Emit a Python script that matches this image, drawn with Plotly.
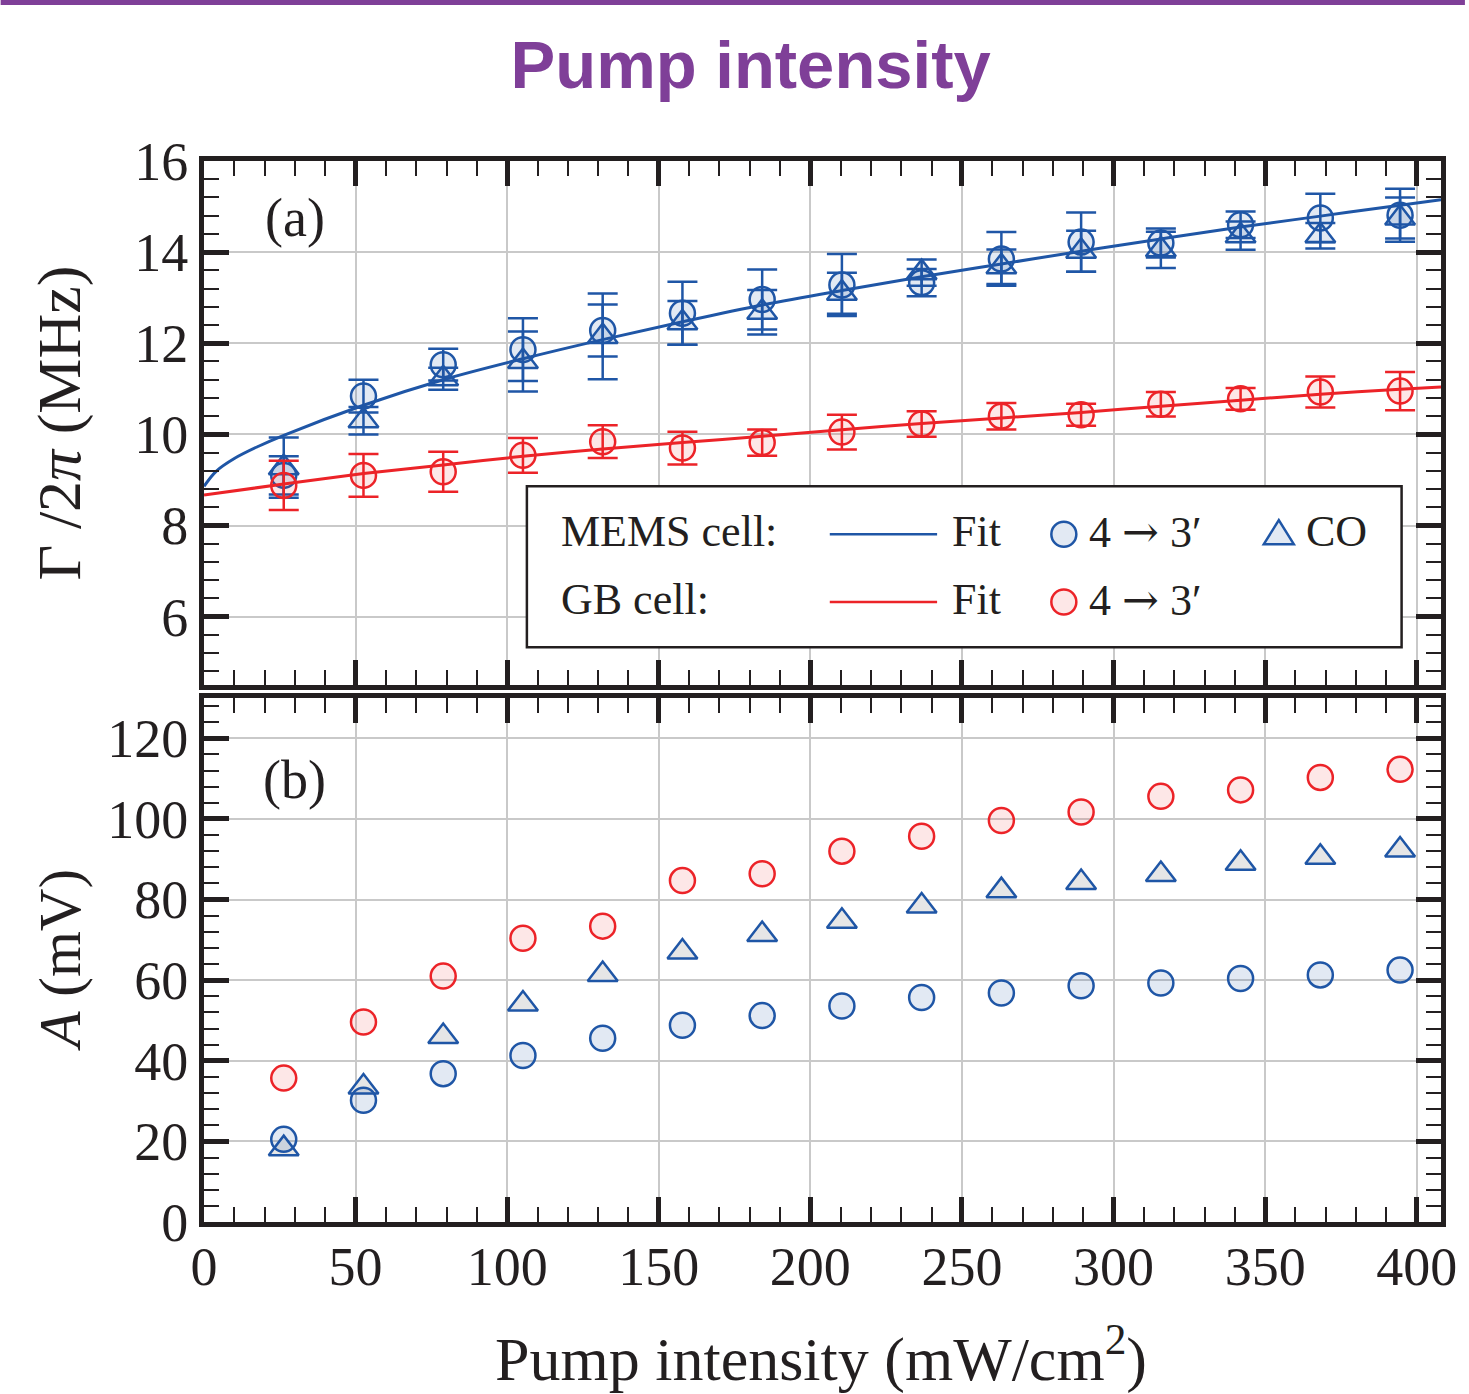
import plotly.graph_objects as go

# ---------------- data ----------------
intensity = [26.3, 52.6, 78.9, 105.2, 131.5, 157.8, 184.1, 210.4,
             236.7, 263.0, 289.3, 315.6, 341.9, 368.2, 394.5]

# (a) linewidth Gamma/2pi (MHz)
mems_gamma = [9.10, 10.84, 11.53, 11.86, 12.28, 12.66, 12.96, 13.28,
              13.33, 13.85, 14.22, 14.20, 14.60, 14.75, 14.81]
mems_gamma_err = [0.42, 0.36, 0.35, 0.69, 0.57, 0.69, 0.66, 0.68,
                  0.30, 0.59, 0.65, 0.32, 0.29, 0.53, 0.58]
co_gamma = [9.27, 10.30, 11.22, 11.60, 12.15, 12.45, 12.68, 13.10,
            13.55, 13.68, 14.02, 14.05, 14.36, 14.36, 14.75]
co_gamma_err = [0.66, 0.30, 0.24, 0.66, 0.94, 0.48, 0.49, 0.45,
                0.29, 0.38, 0.45, 0.40, 0.31, 0.28, 0.45]
gb_gamma = [8.88, 9.10, 9.18, 9.54, 9.84, 9.70, 9.82, 10.05,
            10.23, 10.40, 10.43, 10.66, 10.78, 10.93, 10.95]
gb_gamma_err = [0.54, 0.47, 0.44, 0.38, 0.36, 0.36, 0.29, 0.38,
                0.28, 0.29, 0.24, 0.27, 0.24, 0.34, 0.42]

# fit curves
mems_fit_x = [0, 4, 10, 18, 26.3, 52.6, 78.9, 105.2, 131.5, 157.8, 184.1,
              210.4, 236.7, 263.0, 289.3, 315.6, 341.9, 368.2, 394.5, 408]
mems_fit = [8.86, 9.19, 9.47, 9.74, 9.98, 10.64, 11.20, 11.66, 12.08, 12.47, 12.84,
            13.16, 13.46, 13.74, 14.02, 14.29, 14.55, 14.79, 15.03, 15.15]
gb_fit_x = [0, 26.3, 52.6, 78.9, 105.2, 131.5, 157.8, 184.1, 210.4,
            236.7, 263.0, 289.3, 315.6, 341.9, 368.2, 394.5, 408]
gb_fit = [8.67, 8.91, 9.14, 9.33, 9.52, 9.68, 9.82, 9.96, 10.10,
          10.24, 10.36, 10.48, 10.62, 10.75, 10.88, 10.99, 11.04]

# (b) amplitude A (mV)
mems_amp = [20.5, 30.2, 36.8, 41.3, 45.6, 48.8, 51.2, 53.6,
            55.7, 56.8, 58.6, 59.3, 60.4, 61.3, 62.5]
co_amp = [18.2, 33.5, 46.0, 54.1, 61.4, 67.0, 71.3, 74.6,
          78.4, 82.2, 84.2, 86.2, 89.0, 90.5, 92.3]
gb_amp = [35.7, 49.6, 61.0, 70.4, 73.4, 84.7, 86.4, 92.0,
          95.7, 99.6, 101.7, 105.6, 107.2, 110.3, 112.3]

x_ticks = [0, 50, 100, 150, 200, 250, 300, 350, 400]
gamma_ticks = [6, 8, 10, 12, 14, 16]
amp_ticks = [0, 20, 40, 60, 80, 100, 120]

# ---------------- styles ----------------
BLUE = "#1f56a6"
RED = "#ec2328"
INK = "#231f20"
GRID = "#c9c9c9"
PURPLE = "#7f3f98"
BLUE_FILL = "rgba(31,86,166,0.13)"
RED_FILL = "rgba(236,35,40,0.11)"
GRAY_FILL = "#e6e6e6"
SERIF = "Liberation Serif, DejaVu Serif, serif"

W, H = 1469, 1394
ML, MR, MT, MB = 204, 24, 161, 172

fig = go.Figure()

err_common = dict(type="data", visible=True, thickness=2.5, width=15)

# ---- panel (a) ----
fig.add_trace(go.Scatter(x=mems_fit_x, y=mems_fit, mode="lines",
                         line=dict(color=BLUE, width=3, shape="spline", smoothing=1.0),
                         xaxis="x", yaxis="y", showlegend=False, hoverinfo="skip"))
fig.add_trace(go.Scatter(x=intensity, y=mems_gamma, mode="markers",
                         marker=dict(symbol="circle", size=25, color=BLUE_FILL,
                                     line=dict(color=BLUE, width=2.5)),
                         error_y=dict(array=mems_gamma_err, color=BLUE, **err_common),
                         xaxis="x", yaxis="y", showlegend=False))
fig.add_trace(go.Scatter(x=intensity, y=co_gamma, mode="markers",
                         marker=dict(symbol="triangle-up", size=26, color=BLUE_FILL,
                                     line=dict(color=BLUE, width=2.5)),
                         error_y=dict(array=co_gamma_err, color=BLUE, **err_common),
                         xaxis="x", yaxis="y", showlegend=False))
fig.add_trace(go.Scatter(x=gb_fit_x, y=gb_fit, mode="lines",
                         line=dict(color=RED, width=3, shape="spline", smoothing=0.8),
                         xaxis="x", yaxis="y", showlegend=False, hoverinfo="skip"))
fig.add_trace(go.Scatter(x=intensity, y=gb_gamma, mode="markers",
                         marker=dict(symbol="circle", size=25, color=RED_FILL,
                                     line=dict(color=RED, width=2.5)),
                         error_y=dict(array=gb_gamma_err, color=RED, **err_common),
                         xaxis="x", yaxis="y", showlegend=False))

# ---- panel (b) ----
fig.add_trace(go.Scatter(x=intensity, y=gb_amp, mode="markers",
                         marker=dict(symbol="circle", size=25, color=RED_FILL,
                                     line=dict(color=RED, width=2.5)),
                         xaxis="x2", yaxis="y2", showlegend=False))
fig.add_trace(go.Scatter(x=intensity, y=co_amp, mode="markers",
                         marker=dict(symbol="triangle-up", size=26, color=GRAY_FILL,
                                     line=dict(color=BLUE, width=2.5)),
                         xaxis="x2", yaxis="y2", showlegend=False))
fig.add_trace(go.Scatter(x=intensity, y=mems_amp, mode="markers",
                         marker=dict(symbol="circle", size=25, color=BLUE_FILL,
                                     line=dict(color=BLUE, width=2.5)),
                         xaxis="x2", yaxis="y2", showlegend=False))

axis_common = dict(
    showline=True, linewidth=5, linecolor=INK, mirror="allticks",
    ticks="inside", ticklen=25, tickwidth=5, tickcolor=INK,
    showgrid=True, gridcolor=GRID, gridwidth=2, zeroline=False,
    tickfont=dict(family=SERIF, size=54, color=INK),
)

plot_h = H - MT - MB
top_dom = [(1222 - 685) / plot_h, 1.0]
bot_dom = [0.0, (1222 - 698) / plot_h]

fig.update_layout(
    width=W, height=H,
    margin=dict(l=ML, r=MR, t=MT, b=MB),
    paper_bgcolor="white", plot_bgcolor="white",
    showlegend=False,
    title=dict(text="<b>Pump intensity</b>", x=0.511, xref="container", xanchor="center",
               y=1 - 65 / H, yref="container", yanchor="middle",
               font=dict(family="Liberation Sans, Arial, sans-serif", size=67, color=PURPLE)),
    xaxis=dict(axis_common, range=[0, 408], tickvals=x_ticks, showticklabels=False,
               anchor="y", matches="x2",
               minor=dict(ticks="inside", ticklen=15, tickwidth=2, tickcolor=INK,
                          dtick=10, tick0=0, showgrid=False)),
    yaxis=dict(axis_common, range=[4.5, 16], tickvals=gamma_ticks, domain=top_dom, anchor="x",
               minor=dict(ticks="inside", ticklen=15, tickwidth=2, tickcolor=INK,
                          dtick=0.4, tick0=0, showgrid=False)),
    xaxis2=dict(axis_common, range=[0, 408], tickvals=x_ticks, anchor="y2",
                ticklabelstandoff=-7,
                minor=dict(ticks="inside", ticklen=15, tickwidth=2, tickcolor=INK,
                           dtick=10, tick0=0, showgrid=False)),
    yaxis2=dict(axis_common, range=[0, 130], tickvals=amp_ticks, domain=bot_dom, anchor="x2",
                minor=dict(ticks="inside", ticklen=15, tickwidth=2, tickcolor=INK,
                           dtick=4, tick0=0, showgrid=False)),
)

# ---- purple rule at the very top ----
pw = W - ML - MR
fig.add_shape(type="line", xref="paper", yref="paper",
              x0=-ML / pw, x1=1 + MR / pw, y0=(H - MB - 2.5) / plot_h, y1=(H - MB - 2.5) / plot_h,
              line=dict(color=PURPLE, width=5))

# ---- axis titles & panel labels ----
fig.add_annotation(text="Γ /2<i>π</i> (MHz)", xref="paper", yref="paper",
                   x=(60 - ML) / pw, y=(top_dom[0] + top_dom[1]) / 2, textangle=-90,
                   showarrow=False, xanchor="center", yanchor="middle",
                   font=dict(family=SERIF, size=62, color=INK))
fig.add_annotation(text="<i>A</i> (mV)", xref="paper", yref="paper",
                   x=(60 - ML) / pw, y=(bot_dom[0] + bot_dom[1]) / 2, textangle=-90,
                   showarrow=False, xanchor="center", yanchor="middle",
                   font=dict(family=SERIF, size=59, color=INK))
fig.add_annotation(text="Pump intensity (mW/cm<sup>2</sup>)", xref="paper", yref="paper",
                   x=(823 - ML) / pw, y=(1222 - 1354) / plot_h,
                   showarrow=False, xanchor="center", yanchor="middle",
                   font=dict(family=SERIF, size=62, color=INK))
fig.add_annotation(text="(a)", xref="x", yref="y", x=30, y=14.75, showarrow=False,
                   xanchor="center", yanchor="middle", font=dict(family=SERIF, size=54, color=INK))
fig.add_annotation(text="(b)", xref="x2", yref="y2", x=30, y=109.7, showarrow=False,
                   xanchor="center", yanchor="middle", font=dict(family=SERIF, size=54, color=INK))

# ---- legend box drawn inside panel (a) ----
fig.add_shape(type="rect", xref="x", yref="y", x0=106.5, x1=395.0, y0=5.33, y1=8.86,
              line=dict(color=INK, width=2.5), fillcolor="white", layer="above")
leg_font = dict(family=SERIF, size=44, color=INK)
arrow_txt = "4 <span style='font-family:DejaVu Serif'>→</span> 3′"
rows = [(7.87, "MEMS cell:", BLUE, BLUE_FILL), (6.38, "GB cell:", RED, RED_FILL)]
for yrow, label, col, fill in rows:
    fig.add_annotation(text=label, xref="x", yref="y", x=117.0, y=yrow, showarrow=False,
                       xanchor="left", yanchor="middle", font=leg_font)
    fig.add_shape(type="line", xref="x", yref="y", x0=206.4, x1=241.8, y0=yrow - 0.06,
                  y1=yrow - 0.06, line=dict(color=col, width=2.5), layer="above")
    fig.add_annotation(text="Fit", xref="x", yref="y", x=246.1, y=yrow, showarrow=False,
                       xanchor="left", yanchor="middle", font=leg_font)
    fig.add_shape(type="circle", xref="x", yref="y", xsizemode="pixel", ysizemode="pixel",
                  xanchor=283.6, yanchor=yrow - 0.06, x0=-12.5, x1=12.5, y0=-12.5, y1=12.5,
                  line=dict(color=col, width=2.5), fillcolor=fill, layer="above")
    fig.add_annotation(text=arrow_txt, xref="x", yref="y", x=291.1, y=yrow, showarrow=False,
                       xanchor="left", yanchor="middle", font=leg_font)
# CO entry
fig.add_shape(type="path", xref="x", yref="y", xsizemode="pixel", ysizemode="pixel",
              xanchor=354.5, yanchor=7.81, path="M -15 -10 L 15 -10 L 0 14 Z",
              line=dict(color=BLUE, width=2.5), fillcolor=BLUE_FILL, layer="above")
fig.add_annotation(text="CO", xref="x", yref="y", x=362.7, y=7.87, showarrow=False,
                   xanchor="left", yanchor="middle", font=leg_font)

fig.write_html("out.html")
